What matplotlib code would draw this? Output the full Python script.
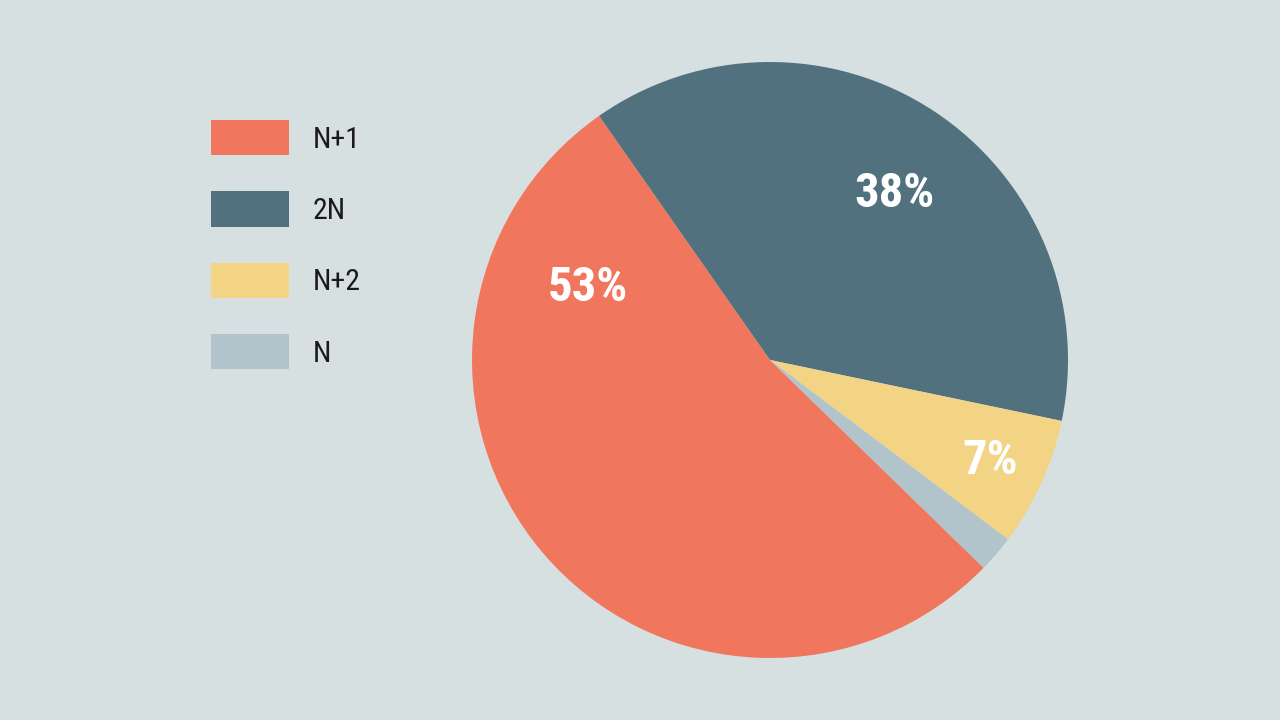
import matplotlib
matplotlib.use("Agg")
import matplotlib.pyplot as plt

labels = ["N+1", "2N", "N+2", "N"]
values = [53, 38, 7, 2]
pct_labels = ["53%", "38%", "7%", ""]
colors = ["#f0775d", "#52717f", "#f3d384", "#b1c4cb"]
bg = "#d7e0e0"

fig = plt.figure(figsize=(12.8, 7.2), dpi=100, facecolor=bg)
ax = fig.add_axes([0.36875, 0.0861, 0.465625, 0.8278])
ax.set_facecolor(bg)
wedges, _ = ax.pie(values, colors=colors, startangle=-44.2, counterclock=False,
                   radius=1, wedgeprops=dict(linewidth=0))
ax.set_xlim(-1, 1)
ax.set_ylim(-1, 1)
ax.set_aspect("equal")
ax.axis("off")

label_pos = [(-0.61, 0.243), (0.418, 0.558), (0.738, -0.338)]
for (x, y), t in zip(label_pos, pct_labels):
    ax.text(x, y, t, ha="center", va="center", color="white", fontsize=35,
            fontweight="bold", family=["Roboto Condensed", "Roboto", "DejaVu Sans"])

fs = 21.5
leg = fig.legend(wedges, labels, loc="upper left",
                 bbox_to_anchor=(211 / 1280, 1 - 120 / 720),
                 frameon=False, borderpad=0, borderaxespad=0,
                 handlelength=78 / (fs * 100 / 72), handleheight=1.45,
                 handletextpad=0.8, labelspacing=1.2,
                 prop=dict(family=["Roboto Condensed", "Roboto", "DejaVu Sans"], size=fs))
for t in leg.get_texts():
    t.set_color("#1a1a1a")

fig.savefig("out.png", dpi=100, facecolor=bg)
